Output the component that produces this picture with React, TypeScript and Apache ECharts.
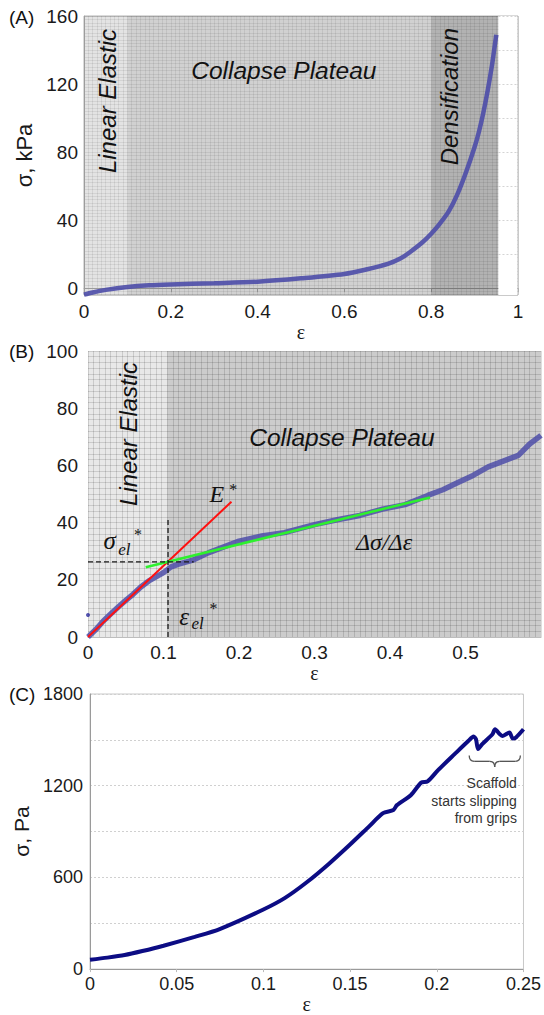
import React, { useEffect, useRef } from "react";
import * as echarts from "echarts";

const SANS = "'Liberation Sans', Arial, Helvetica, sans-serif";
const SERIF = "'Liberation Serif', 'Times New Roman', serif";

// ---------- Panel A: full compression curve ----------
const A_STRAIN = [0, 0.02, 0.05, 0.1, 0.15, 0.2, 0.3, 0.4, 0.5, 0.6, 0.65, 0.7, 0.73, 0.75, 0.78, 0.8, 0.82, 0.84, 0.86, 0.88, 0.9, 0.91, 0.92, 0.93, 0.94, 0.945, 0.95];
const A_STRESS = [-3.8, -2.5, -1, 0.7, 1.7, 2.2, 2.9, 3.8, 5.8, 8.4, 11, 14.3, 17.6, 21, 27, 32, 38, 45, 55, 68, 83, 92, 103, 116, 131, 140, 149];
const A_REGION_BOUNDS = [0, 0.1, 0.8, 0.955, 1];
const A_Y_TICKS = [0, 40, 80, 120, 160];
const A_WHITE_DOTTED = [20, 40, 60, 80, 100, 120, 140, 160];

// ---------- Panel B: zoom on the low-strain region ----------
const B_STRAIN = [0, 0.01, 0.02, 0.03, 0.04, 0.05, 0.06, 0.07, 0.08, 0.09, 0.1, 0.11, 0.12, 0.14, 0.16, 0.18, 0.2, 0.23, 0.26, 0.3, 0.33, 0.36, 0.39, 0.42, 0.45, 0.47, 0.49, 0.51, 0.53, 0.55, 0.57, 0.585, 0.6];
const B_STRESS = [0, 2.5, 5.5, 8, 10.5, 12.8, 15, 17.5, 19.5, 21, 22.5, 24.5, 25.5, 27, 29.5, 31.5, 33.5, 35.3, 36.5, 39.3, 41, 42.5, 44.7, 46.3, 49.5, 51.5, 54, 56.5, 59.5, 61.5, 63.5, 67.5, 70.5];
const B_OUTLIER = [[0, 7.7]];
const B_MODULUS_LINE = [[0, 0], [0.19, 47.3]];
const B_PLATEAU_LINE = [[0.0765, 24.4], [0.453, 48.8]];
const B_SIGMA_EL_DASH = [[0, 26.3], [0.14, 26.3]];
const B_EPS_EL_DASH = [[0.106, 0], [0.106, 42]];
const B_REGION_SPLIT = 0.105;

// ---------- Panel C: tensile curve ----------
const C_STRAIN = [0, 0.01, 0.02, 0.0302, 0.0424, 0.0604, 0.0748, 0.1, 0.1125, 0.125, 0.1377, 0.15, 0.161, 0.169, 0.175, 0.177, 0.185, 0.191, 0.1947, 0.2006, 0.2104, 0.2183, 0.2212, 0.2226, 0.2238, 0.2262, 0.2321, 0.2336, 0.2364, 0.238, 0.2419, 0.2438, 0.2457, 0.25];
const C_STRESS = [61, 75, 92, 118, 153, 211, 262, 390, 466, 568, 688, 815, 934, 1020, 1041, 1073, 1138, 1220, 1228, 1300, 1408, 1494, 1522, 1505, 1440, 1472, 1537, 1569, 1537, 1526, 1548, 1509, 1516, 1569];
const C_Y_TICKS = [0, 600, 1200, 1800];
// brace: [xLeft, yTop, xRight, xTip, yTip]
const C_BRACE = [[0.2187, 1397, 0.2482, 0.2334, 1322]];

const zip = (xs: number[], ys: number[]) => xs.map((x, i) => [x, ys[i]]);

const labelStyle = (size: number, margin: number) => ({
  fontFamily: SANS,
  fontSize: size,
  color: "#1a1a1a",
  margin,
});

const textureAxis = (gridIndex: number, min: number, max: number, interval: number, color: string) => ({
  gridIndex,
  type: "value",
  min,
  max,
  interval,
  axisLine: { show: false },
  axisTick: { show: false },
  axisLabel: { show: false },
  splitLine: { show: true, lineStyle: { color, width: 1 } },
});

export default function App() {
  const ref = useRef<HTMLDivElement>(null);

  useEffect(() => {
    if (!ref.current) return;
    const chart = echarts.init(ref.current, null, { renderer: "svg" });

    const aRegionColors = ["rgba(0,0,0,0.11)", "rgba(0,0,0,0.18)", "rgba(0,0,0,0.3)", "#ffffff"];
    const aAreas = aRegionColors.map((c, i) => [
      { xAxis: A_REGION_BOUNDS[i], itemStyle: { color: c } },
      { xAxis: A_REGION_BOUNDS[i + 1] - (i === 3 ? 0.002 : 0) },
    ]);

    const option: any = {
      animation: false,
      grid: [
        { left: 84, top: 16, width: 434, height: 279, show: true, borderColor: "#b5b5b5", borderWidth: 1 },
        { left: 88, top: 351, width: 456, height: 286, show: false },
        { left: 90, top: 694, width: 442, height: 279, show: true, borderColor: "#c8c8c8", borderWidth: 1 },
      ],
      xAxis: [
        {
          gridIndex: 0, type: "value", min: 0, max: 1, interval: 0.2,
          axisLine: { lineStyle: { color: "#b0b0b0" } },
          axisTick: { show: true, length: 4, lineStyle: { color: "#b0b0b0" } },
          axisLabel: labelStyle(19, 7),
          splitLine: { show: false },
          name: "ε", nameLocation: "middle", nameGap: 23,
          nameTextStyle: { fontFamily: SERIF, fontSize: 20, color: "#1a1a1a" },
        },
        {
          gridIndex: 1, type: "value", min: 0, max: 0.6, interval: 0.1,
          axisLine: { lineStyle: { color: "#bdbdbd" } },
          axisTick: { show: false },
          axisLabel: { ...labelStyle(19, 6), formatter: (v: number) => (v > 0.55 ? "" : String(v)) },
          splitLine: { show: false },
          name: "ε", nameLocation: "middle", nameGap: 24,
          nameTextStyle: { fontFamily: SERIF, fontSize: 20, color: "#1a1a1a" },
        },
        {
          gridIndex: 2, type: "value", min: 0, max: 0.25, interval: 0.05,
          axisLine: { lineStyle: { color: "#9a9a9a" } },
          axisTick: { show: true, length: 3, lineStyle: { color: "#bbbbbb" } },
          axisLabel: labelStyle(18, 6),
          splitLine: { show: false },
          name: "ε", nameLocation: "middle", nameGap: 15,
          nameTextStyle: { fontFamily: SERIF, fontSize: 20, color: "#1a1a1a" },
        },
        textureAxis(0, 0, 1, 0.01, "rgba(0,0,0,0.07)"),
        textureAxis(1, 0, 0.6, 0.0075, "rgba(0,0,0,0.13)"),
      ],
      yAxis: [
        {
          gridIndex: 0, type: "value", min: -4, max: 160, interval: 4,
          axisLine: { show: true, lineStyle: { color: "#b0b0b0" } },
          axisTick: { show: false },
          axisLabel: { ...labelStyle(19, 6), formatter: (v: number) => (A_Y_TICKS.includes(v) ? String(v) : "") },
          splitLine: { show: false },
          name: "σ, kPa", nameLocation: "middle", nameGap: 47,
          nameTextStyle: { fontFamily: SANS, fontSize: 22, color: "#1a1a1a" },
        },
        {
          gridIndex: 1, type: "value", min: 0, max: 100, interval: 20,
          axisLine: { show: false },
          axisTick: { show: false },
          axisLabel: labelStyle(19, 10),
          splitLine: { show: false },
        },
        {
          gridIndex: 2, type: "value", min: 0, max: 1800, interval: 300,
          axisLine: { show: true, lineStyle: { color: "#9a9a9a" } },
          axisTick: { show: false },
          axisLabel: { ...labelStyle(18, 7), formatter: (v: number) => (C_Y_TICKS.includes(v) ? String(v) : "") },
          splitLine: { show: true, lineStyle: { color: "#d0d0d0", type: [2, 2], width: 1 } },
          name: "σ, Pa", nameLocation: "middle", nameGap: 53,
          nameTextStyle: { fontFamily: SANS, fontSize: 21, color: "#1a1a1a" },
        },
        textureAxis(0, -4, 160, 2, "rgba(0,0,0,0.07)"),
        textureAxis(1, 0, 100, 2, "rgba(0,0,0,0.13)"),
      ],
      series: [
        {
          type: "line", xAxisIndex: 0, yAxisIndex: 0, z: 3,
          data: zip(A_STRAIN, A_STRESS),
          showSymbol: false, smooth: 0.3,
          lineStyle: { color: "#4d4da8", width: 4.5, opacity: 0.9 },
          markArea: { silent: true, data: aAreas },
          markLine: {
            silent: true, symbol: "none", label: { show: false },
            lineStyle: { color: "#d4d4d4", type: [2, 2], width: 1 },
            data: A_WHITE_DOTTED.map((v) => [{ coord: [A_REGION_BOUNDS[3], v] }, { coord: [1, v] }]),
          },
        },
        {
          type: "line", xAxisIndex: 1, yAxisIndex: 1, z: 2,
          data: zip(B_STRAIN, B_STRESS),
          showSymbol: false,
          lineStyle: { color: "rgba(78,78,168,0.85)", width: 5.5 },
          markArea: {
            silent: true,
            data: [
              [{ xAxis: 0, itemStyle: { color: "rgba(0,0,0,0.09)" } }, { xAxis: B_REGION_SPLIT }],
              [{ xAxis: B_REGION_SPLIT, itemStyle: { color: "rgba(0,0,0,0.2)" } }, { xAxis: 0.6 }],
            ],
          },
        },
        {
          type: "scatter", xAxisIndex: 1, yAxisIndex: 1, z: 3,
          data: B_OUTLIER, symbolSize: 4, itemStyle: { color: "#2b2b9c" },
        },
        {
          type: "line", xAxisIndex: 1, yAxisIndex: 1, z: 4, data: B_MODULUS_LINE,
          showSymbol: false, lineStyle: { color: "#ff1010", width: 2 },
        },
        {
          type: "line", xAxisIndex: 1, yAxisIndex: 1, z: 4, data: B_PLATEAU_LINE,
          showSymbol: false, lineStyle: { color: "#2ef02e", width: 2.5 },
        },
        {
          type: "line", xAxisIndex: 1, yAxisIndex: 1, z: 5, data: B_SIGMA_EL_DASH,
          showSymbol: false, lineStyle: { color: "#1a1a1a", width: 1.3, type: [5, 3] },
        },
        {
          type: "line", xAxisIndex: 1, yAxisIndex: 1, z: 5, data: B_EPS_EL_DASH,
          showSymbol: false, lineStyle: { color: "#1a1a1a", width: 1.3, type: [5, 3] },
        },
        {
          type: "line", xAxisIndex: 2, yAxisIndex: 2, z: 3,
          data: zip(C_STRAIN, C_STRESS),
          showSymbol: false, smooth: 0.25,
          lineStyle: { color: "#0c0c84", width: 4 },
        },
        {
          type: "custom", xAxisIndex: 2, yAxisIndex: 2, z: 4,
          data: C_BRACE,
          encode: { x: [0, 2, 3], y: [1, 4] },
          renderItem: (params: any, api: any) => {
            const l = api.coord([api.value(0), api.value(1)]);
            const r = api.coord([api.value(2), api.value(1)]);
            const t = api.coord([api.value(3), api.value(4)]);
            const m = (l[1] + t[1]) / 2;
            const rad = 5;
            const style = { stroke: "#555555", lineWidth: 1.3, fill: "none" };
            return {
              type: "group",
              children: [
                { type: "bezierCurve", shape: { x1: l[0], y1: l[1], cpx1: l[0], cpy1: m, x2: l[0] + rad, y2: m }, style },
                { type: "line", shape: { x1: l[0] + rad, y1: m, x2: t[0] - rad, y2: m }, style },
                { type: "bezierCurve", shape: { x1: t[0] - rad, y1: m, cpx1: t[0], cpy1: m, x2: t[0], y2: t[1] }, style },
                { type: "bezierCurve", shape: { x1: t[0], y1: t[1], cpx1: t[0], cpy1: m, x2: t[0] + rad, y2: m }, style },
                { type: "line", shape: { x1: t[0] + rad, y1: m, x2: r[0] - rad, y2: m }, style },
                { type: "bezierCurve", shape: { x1: r[0] - rad, y1: m, cpx1: r[0], cpy1: m, x2: r[0], y2: r[1] }, style },
              ],
            };
          },
        },
      ],
    };

    chart.setOption(option);

    const at = (g: number, x: number, y: number) => chart.convertToPixel({ gridIndex: g } as any, [x, y]) as number[];
    const txt = (
      g: number, x: number, y: number, text: string,
      o: { size: number; family?: string; italic?: boolean; rot?: number; align?: string; fill?: string; lh?: number }
    ) => {
      const [px, py] = at(g, x, y);
      return {
        type: "text", x: px, y: py, rotation: o.rot || 0, z: 100,
        style: {
          text, fontSize: o.size, fontFamily: o.family || SANS,
          fontStyle: o.italic ? "italic" : "normal",
          fill: o.fill || "#111111", align: o.align || "left", verticalAlign: "middle",
          lineHeight: o.lh,
        },
      };
    };
    const page = (x: number, y: number, text: string) => ({
      type: "text", x, y, z: 100,
      style: { text, fontSize: 19, fontFamily: SANS, fill: "#111111", align: "left", verticalAlign: "middle" },
    });

    chart.setOption({
      graphic: [
        page(9, 17, "(A)"),
        page(9, 351, "(B)"),
        page(9, 694, "(C)"),
        // Panel A
        txt(0, 0.054, 110, "Linear Elastic", { size: 24, italic: true, rot: Math.PI / 2, align: "center" }),
        txt(0, 0.247, 128, "Collapse Plateau", { size: 24.5, italic: true }),
        txt(0, 0.842, 112.6, "Densification", { size: 24, italic: true, rot: Math.PI / 2, align: "center" }),
        // Panel B
        txt(1, 0.053, 71, "Linear Elastic", { size: 24, italic: true, rot: Math.PI / 2, align: "center" }),
        txt(1, 0.2136, 69.8, "Collapse Plateau", { size: 24.5, italic: true }),
        txt(1, 0.161, 50, "E", { size: 24, family: SERIF, italic: true }),
        txt(1, 0.187, 51.5, "*", { size: 16, family: SERIF }),
        txt(1, 0.0205, 33.9, "σ", { size: 25, family: SERIF, italic: true }),
        txt(1, 0.04, 30.6, "el", { size: 17, family: SERIF, italic: true }),
        txt(1, 0.061, 36, "*", { size: 16, family: SERIF }),
        txt(1, 0.121, 7.3, "ε", { size: 25, family: SERIF, italic: true }),
        txt(1, 0.137, 4.7, "el", { size: 17, family: SERIF, italic: true }),
        txt(1, 0.161, 10, "*", { size: 16, family: SERIF }),
        txt(1, 0.355, 33.3, "Δσ/Δε", { size: 24, family: SERIF, italic: true }),
        // Panel C
        txt(2, 0.2462, 1100, "Scaffold\nstarts slipping\nfrom grips", { size: 14, align: "right", fill: "#333333", lh: 17.5 }),
      ],
    });

    return () => chart.dispose();
  }, []);

  return <div ref={ref} style={{ position: "absolute", left: 0, top: 0, width: 544, height: 1015 }} />;
}
